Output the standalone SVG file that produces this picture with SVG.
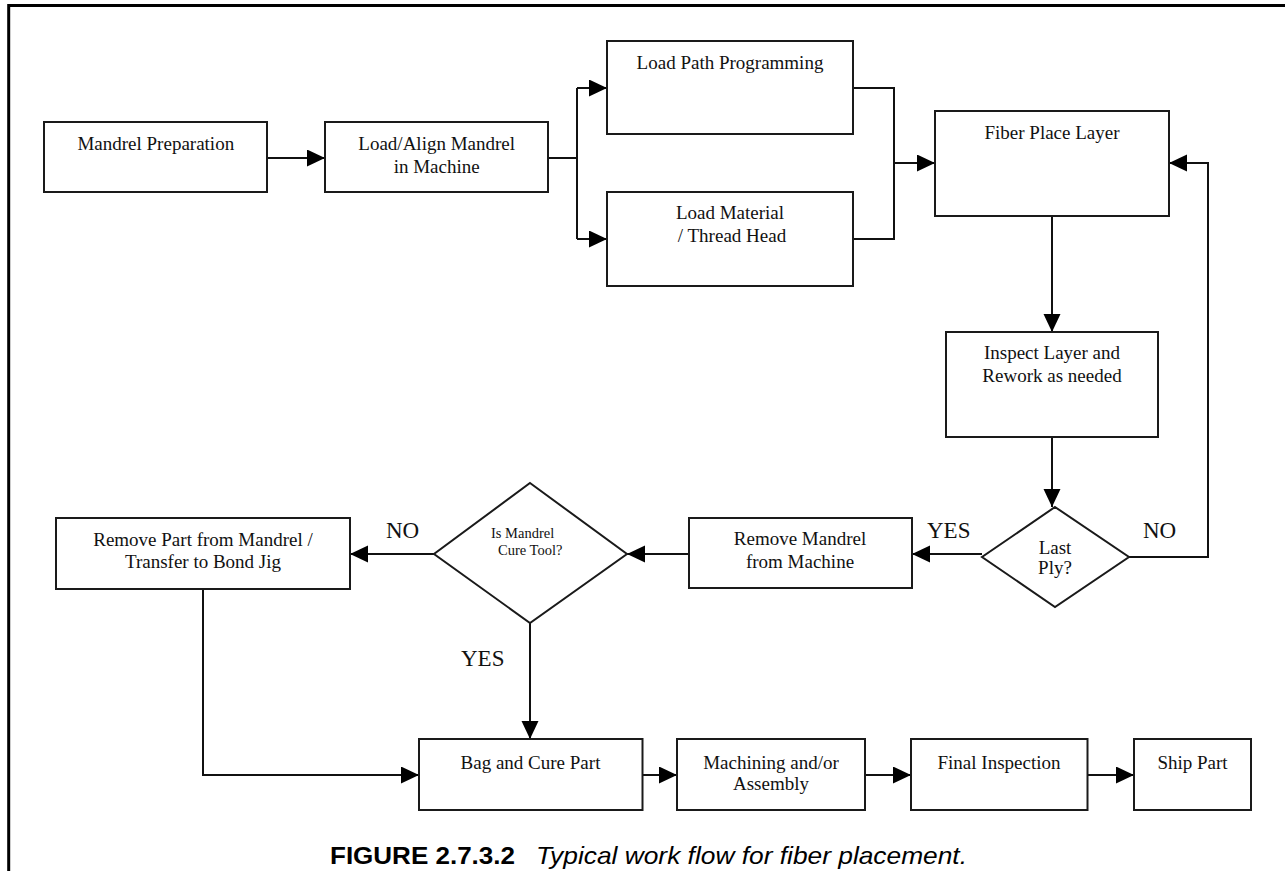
<svg xmlns="http://www.w3.org/2000/svg" width="1285" height="871" viewBox="0 0 1285 871">
<style>
.box{fill:#fff;stroke:#1a1a1a;stroke-width:2}
.ln{fill:none;stroke:#111;stroke-width:2}
.arr{marker-end:url(#ah)}
.t{font-family:"Liberation Serif","Times New Roman",serif;font-size:19px;fill:#111;text-anchor:middle}
.s{font-family:"Liberation Serif","Times New Roman",serif;font-size:14.5px;fill:#111}
.lbl{font-family:"Liberation Serif","Times New Roman",serif;font-size:23px;fill:#111}
.cap{font-family:"Liberation Sans",Arial,sans-serif;font-size:24px;fill:#000}
</style>
<defs>
<marker id="ah" markerUnits="userSpaceOnUse" markerWidth="18" markerHeight="18" refX="18" refY="8.5" orient="auto">
<path d="M0,0 L18,8.5 L0,17 z" fill="#000"/>
</marker>
</defs>
<g id="frame">
<path d="M8.7,871 L8.7,5.5 L1285,5.5" fill="none" stroke="#000" stroke-width="3"/>
</g>
<g id="connectors">
<path class="ln arr" d="M267,158 L325,158"/>
<path class="ln" d="M548,158 L577,158 M577,88 L577,239"/>
<path class="ln arr" d="M577,88 L607,88"/>
<path class="ln arr" d="M577,239 L607,239"/>
<path class="ln" d="M853,88 L894,88 L894,239 L853,239"/>
<path class="ln arr" d="M894,163 L935,163"/>
<path class="ln arr" d="M1052,216 L1052,332"/>
<path class="ln arr" d="M1052,437 L1052,507"/>
<path class="ln arr" d="M1129,557 L1208,557 L1208,163 L1169,163"/>
<path class="ln arr" d="M982,554 L912,554"/>
<path class="ln arr" d="M689,554 L627,554"/>
<path class="ln arr" d="M434,554 L350,554"/>
<path class="ln arr" d="M530,623 L530,739"/>
<path class="ln arr" d="M203,589 L203,775 L419,775"/>
<path class="ln arr" d="M642.5,775 L677,775"/>
<path class="ln arr" d="M865,775 L911,775"/>
<path class="ln arr" d="M1087.5,775 L1134,775"/>
</g>
<g id="mandrel-prep">
<rect class="box" x="44" y="122" width="223" height="70"/>
<text class="t" x="155.8" y="150">Mandrel Preparation</text>
</g>
<g id="load-align">
<rect class="box" x="325" y="122" width="223" height="70"/>
<text class="t" x="436.7" y="150">Load/Align Mandrel</text>
<text class="t" x="436.7" y="173">in Machine</text>
</g>
<g id="load-path">
<rect class="box" x="607" y="41" width="246" height="93"/>
<text class="t" x="730" y="69">Load Path Programming</text>
</g>
<g id="load-material">
<rect class="box" x="607" y="192" width="246" height="94"/>
<text class="t" x="730" y="219">Load Material</text>
<text class="t" x="732" y="242">/ Thread Head</text>
</g>
<g id="fiber-place">
<rect class="box" x="935" y="111" width="234" height="105"/>
<text class="t" x="1052" y="139">Fiber Place Layer</text>
</g>
<g id="inspect">
<rect class="box" x="946" y="332" width="212" height="105"/>
<text class="t" x="1052" y="359">Inspect Layer and</text>
<text class="t" x="1052" y="382">Rework as needed</text>
</g>
<g id="last-ply">
<polygon class="box" points="1055,507 1129,557 1055,607 982,557"/>
<text class="t" x="1055" y="554">Last</text>
<text class="t" x="1055" y="574">Ply?</text>
</g>
<g id="remove-mandrel">
<rect class="box" x="689" y="518" width="223" height="70"/>
<text class="t" x="800" y="545">Remove Mandrel</text>
<text class="t" x="800" y="568">from Machine</text>
</g>
<g id="cure-tool">
<polygon class="box" points="530,483 627,554 530,623 434,554"/>
<text class="s" x="491" y="538">Is Mandrel</text>
<text class="s" x="498" y="555">Cure Tool?</text>
</g>
<g id="remove-part">
<rect class="box" x="56" y="518" width="294" height="71"/>
<text class="t" x="203" y="546">Remove Part from Mandrel /</text>
<text class="t" x="203" y="568">Transfer to Bond Jig</text>
</g>
<g id="bag-cure">
<rect class="box" x="419" y="739" width="223.5" height="71"/>
<text class="t" x="530.5" y="769">Bag and Cure Part</text>
</g>
<g id="machining">
<rect class="box" x="677" y="739" width="188" height="71"/>
<text class="t" x="771" y="769">Machining and/or</text>
<text class="t" x="771" y="790">Assembly</text>
</g>
<g id="final-inspection">
<rect class="box" x="911" y="739" width="176.5" height="71"/>
<text class="t" x="999" y="769">Final Inspection</text>
</g>
<g id="ship-part">
<rect class="box" x="1134" y="739" width="117" height="71"/>
<text class="t" x="1192.5" y="769">Ship Part</text>
</g>
<g id="labels">
<text class="lbl" x="927" y="538">YES</text>
<text class="lbl" x="1143" y="538">NO</text>
<text class="lbl" x="386" y="538">NO</text>
<text class="lbl" x="461" y="666">YES</text>
</g>
<g id="caption">
<text class="cap" x="330" y="864" font-weight="bold" textLength="185" lengthAdjust="spacingAndGlyphs">FIGURE 2.7.3.2</text>
<text class="cap" x="536" y="864" font-style="italic" textLength="431" lengthAdjust="spacingAndGlyphs">Typical work flow for fiber placement.</text>
</g>
</svg>
